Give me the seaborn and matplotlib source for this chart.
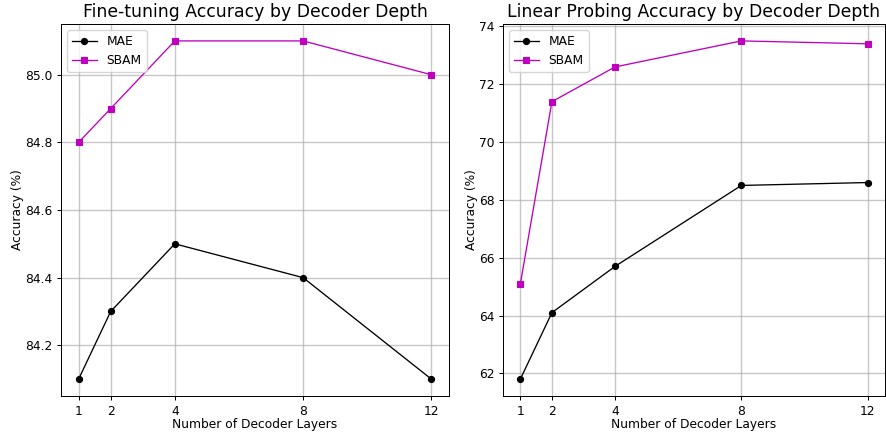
import matplotlib
matplotlib.use("Agg")
import matplotlib.pyplot as plt
import seaborn as sns
import pandas as pd

layers = [1, 2, 4, 8, 12]
ft_mae = [84.1, 84.3, 84.5, 84.4, 84.1]
ft_sbam = [84.8, 84.9, 85.1, 85.1, 85.0]
lp_mae = [61.8, 64.1, 65.7, 68.5, 68.6]
lp_sbam = [65.1, 71.4, 72.6, 73.5, 73.4]
titles = ["Fine-tuning Accuracy by Decoder Depth", "Linear Probing Accuracy by Decoder Depth"]

k = 0.886  # font/element scale relative to default at dpi 100
plt.rcParams.update({
    "font.family": ["DejaVu Sans"],
    "font.size": 10 * k,
    "axes.linewidth": 0.8 * k,
    "xtick.major.width": 0.8 * k,
    "ytick.major.width": 0.8 * k,
    "xtick.major.size": 3.5 * k,
    "ytick.major.size": 3.5 * k,
    "xtick.major.pad": 3.5 * k,
    "ytick.major.pad": 3.5 * k,
    "legend.fontsize": 10 * k,
    "axes.titlepad": 6 * k,
})

fig = plt.figure(figsize=(8.86, 4.33), dpi=100)
ax1 = fig.add_axes([61/886, 1-396/433, (449-61)/886, (396-24)/433])
ax2 = fig.add_axes([503/886, 1-396/433, (885-503)/886, (396-24)/433])

for ax, mae, sbam, title in [(ax1, ft_mae, ft_sbam, titles[0]), (ax2, lp_mae, lp_sbam, titles[1])]:
    df = pd.DataFrame({"layers": layers, "MAE": mae, "SBAM": sbam})
    sns.lineplot(data=df, x="layers", y="MAE", ax=ax, color="k", marker="o",
                 markersize=4.4, linewidth=0.95, mec="k", mew=0.8, label="MAE")
    sns.lineplot(data=df, x="layers", y="SBAM", ax=ax, color="m", marker="s",
                 markersize=4.4, linewidth=0.95, mec="m", mew=0.8, label="SBAM")
    ax.set_xticks(layers)
    ax.set_xlabel("Number of Decoder Layers", labelpad=0)
    ax.set_ylabel("Accuracy (%)", labelpad=0.5)
    ax.set_title(title, fontsize=14 * k, pad=5)
    ax.grid(True, color="#b0b0b0", linewidth=1.0, alpha=0.7)
    ax.legend(loc="upper left")

fig.savefig("out.png", dpi=100)
